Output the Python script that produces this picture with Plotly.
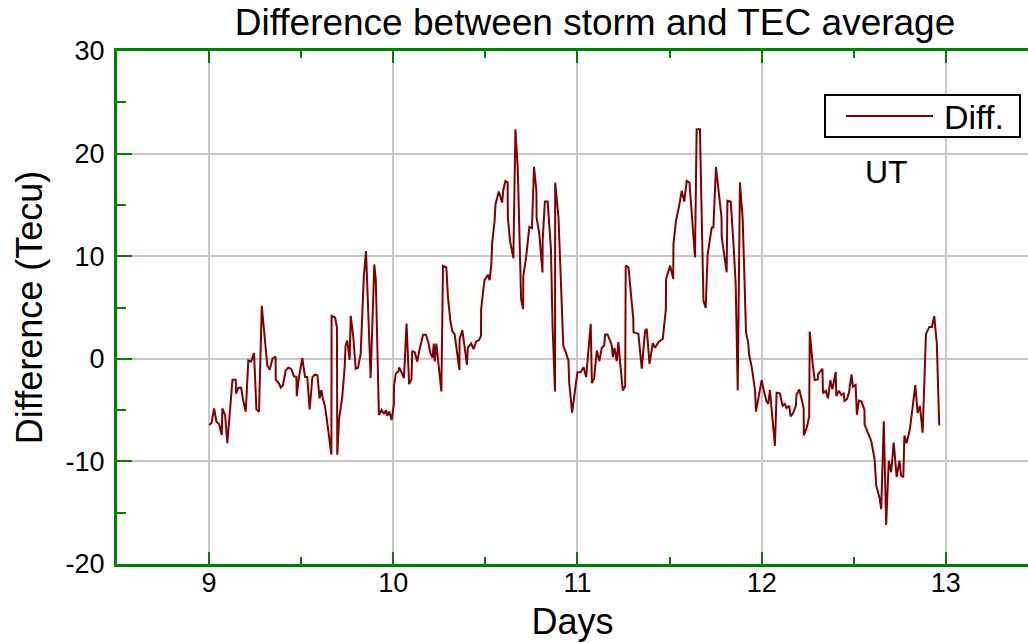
import plotly.graph_objects as go

days = [
    9.000, 9.014, 9.027, 9.040, 9.054, 9.069, 9.072, 9.087, 9.099, 9.112,
    9.127, 9.145, 9.146, 9.159, 9.174, 9.184, 9.199, 9.213, 9.228, 9.244,
    9.257, 9.271, 9.286, 9.316, 9.329, 9.344, 9.361, 9.362, 9.380, 9.389,
    9.401, 9.416, 9.430, 9.445, 9.461, 9.474, 9.476, 9.488, 9.506, 9.521,
    9.533, 9.546, 9.561, 9.575, 9.588, 9.600, 9.609, 9.618, 9.629, 9.642,
    9.664, 9.665, 9.684, 9.694, 9.696, 9.705, 9.723, 9.736, 9.741, 9.750,
    9.763, 9.769, 9.783, 9.796, 9.808, 9.823, 9.840, 9.852, 9.863, 9.877,
    9.897, 9.905, 9.922,
    9.937, 9.950, 9.960, 9.968, 9.978, 9.991, 10.003, 10.004, 10.014, 10.027,
    10.032, 10.045, 10.058, 10.072, 10.086, 10.099, 10.103, 10.117, 10.130, 10.141,
    10.148, 10.162, 10.177, 10.189, 10.202, 10.213, 10.220, 10.225, 10.234, 10.261,
    10.270, 10.288, 10.297, 10.310, 10.321, 10.333, 10.359, 10.360, 10.375, 10.387,
    10.400, 10.405, 10.423, 10.436, 10.450, 10.465, 10.476, 10.477, 10.495, 10.514,
    10.523, 10.532, 10.537, 10.550, 10.555, 10.573, 10.591, 10.598, 10.609, 10.621,
    10.622, 10.634, 10.652, 10.663, 10.676, 10.694, 10.705, 10.706, 10.721, 10.739,
    10.753, 10.764, 10.777, 10.778, 10.793, 10.810, 10.811, 10.823, 10.838, 10.856,
    10.865, 10.878, 10.879, 10.897, 10.910, 10.923, 10.937, 10.951, 10.955, 10.971,
    10.990, 11.000,
    11.018, 11.033, 11.047, 11.072, 11.078, 11.090, 11.105, 11.119, 11.132, 11.145,
    11.150, 11.163, 11.177, 11.186, 11.192, 11.201, 11.213, 11.222, 11.231, 11.246,
    11.259, 11.262, 11.277, 11.303, 11.304, 11.331, 11.349, 11.367, 11.376, 11.391,
    11.409, 11.421, 11.439, 11.463, 11.480, 11.481, 11.503, 11.520, 11.521, 11.535,
    11.553, 11.566, 11.580, 11.593, 11.608, 11.638, 11.647, 11.665, 11.669, 11.684,
    11.696, 11.707, 11.729, 11.738, 11.752, 11.782, 11.783, 11.810, 11.814, 11.832,
    11.846, 11.859, 11.870, 11.882, 11.897, 11.915, 11.928, 11.931, 11.946, 11.964,
    11.969, 11.982, 12.000,
    12.013, 12.027, 12.036, 12.045, 12.059, 12.072, 12.081, 12.099, 12.114, 12.126,
    12.135, 12.150, 12.157, 12.171, 12.186, 12.189, 12.204, 12.216, 12.228, 12.229,
    12.247, 12.258, 12.261, 12.276, 12.288, 12.305, 12.306, 12.330, 12.333, 12.348,
    12.360, 12.373, 12.384, 12.402, 12.405, 12.420, 12.432, 12.445, 12.450, 12.463,
    12.474, 12.488, 12.495, 12.510, 12.517, 12.528, 12.542, 12.558, 12.559, 12.577,
    12.595, 12.613, 12.622, 12.640, 12.649, 12.663, 12.676, 12.690, 12.703, 12.717,
    12.733, 12.748, 12.757, 12.769, 12.775, 12.787, 12.805, 12.820, 12.834, 12.847,
    12.859, 12.874, 12.888, 12.892, 12.910, 12.924, 12.937, 12.951, 12.964,
]

diff = [
    -6.45, -6.23, -4.84, -6.13, -6.35, -7.42, -4.84, -5.48, -8.23, -5.32,
    -2.03, -2.03, -3.39, -2.81, -2.81, -3.97, -5.16, -0.16, -0.26, 0.55,
    -4.94, -5.16, 5.16, -0.65, -1.06, 0.00, 0.23, -2.03, -2.42, -2.81,
    -2.58, -1.13, -0.87, -0.97, -1.71, -1.77, -3.65, -1.77, 0.06, -1.77,
    -1.77, -4.94, -1.77, -1.55, -1.61, -3.87, -3.06, -3.87, -4.61, -6.29,
    -9.35, 4.19, 4.03, 3.06, -9.35, -5.97, -3.71, -0.81, 1.29, 1.77,
    -0.10, 4.19, 2.10, -0.97, -0.87, 0.48, 8.00, 10.50, 5.50, -1.87,
    9.20, 7.70, -5.48,
    -5.00, -5.39, -5.00, -5.55, -5.13, -5.97, -4.42, -2.63, -1.43, -1.23,
    -0.84, -1.33, -1.88, 3.44, -2.47, -1.98, 0.78, 0.62, -0.26, 0.78,
    1.36, 2.34, 2.34, 1.69, 0.52, 0.13, 1.49, -0.26, 1.49, -3.18,
    9.06, 8.90, 5.97, 3.70, 2.66, 2.40, -1.10, 1.92, 2.79, 1.10,
    -0.58, 1.10, 1.49, 0.94, 1.69, 1.82, 2.24, 4.84, 7.66, 8.18,
    7.66, 9.12, 11.33, 13.44, 15.06, 16.30, 15.23, 16.53, 17.34, 17.18,
    13.77, 11.49, 9.81, 22.37, 18.47, 5.81, 4.84, 8.08, 9.87, 12.86,
    12.73, 18.70, 16.36, 13.77, 12.14, 8.41, 11.49, 15.32, 15.32, 10.68,
    3.05, -3.18, 17.18, 13.77, 6.46, 1.27, 0.62, -0.19, -2.31, -5.25,
    -2.60, -1.30,
    -1.30, -0.81, -1.78, 3.40, -2.37, -1.94, 0.81, -0.23, 1.07, 1.30,
    2.37, 2.37, 1.78, 1.30, 0.16, 1.07, -0.23, 1.62, -0.23, -3.08,
    -2.69, 9.08, 8.91, 3.89, 2.59, 2.43, -0.97, 2.69, 2.92, -0.49,
    1.52, 1.07, 1.62, 1.94, 4.86, 7.78, 9.08, 7.78, 11.18, 13.45,
    15.01, 16.37, 15.33, 17.34, 17.18, 9.89, 22.37, 22.37, 18.64, 5.67,
    4.96, 10.21, 12.80, 12.80, 18.70, 13.78, 11.90, 8.43, 15.40, 15.33,
    11.51, 7.29, -3.08, 17.18, 13.61, 2.59, 1.46, 0.49, -0.81, -3.08,
    -5.15, -3.69, -2.08,
    -3.21, -4.17, -4.39, -3.04, -5.93, -8.49, -3.30, -3.37, -4.58, -4.39,
    -4.81, -4.58, -5.61, -5.29, -4.58, -3.53, -2.98, -3.85, -4.81, -7.47,
    -6.57, -5.61, 2.66, -0.32, -2.08, -2.02, -1.51, -0.96, -3.37, -3.11,
    -3.85, -2.08, -2.98, -1.28, -3.62, -3.11, -3.53, -3.37, -4.10, -3.94,
    -3.30, -1.51, -2.72, -2.56, -5.45, -4.07, -4.17, -4.97, -6.41, -7.21,
    -8.01, -9.78, -12.34, -13.56, -14.65, -6.09, -16.19, -9.94, -11.06, -8.17,
    -11.54, -9.94, -11.38, -11.54, -7.47, -8.24, -6.83, -4.65, -2.56, -5.29,
    -4.58, -7.21, 0.48, 2.40, 3.11, 3.11, 4.17, 1.44, -6.51,
]

x_ticks = [9, 10, 11, 12, 13]
y_ticks = [-20, -10, 0, 10, 20, 30]
series_name = "Diff."

FONT = "Liberation Sans, Arial, sans-serif"
GREEN = "#008000"
LINE_COLOR = "#800000"

# plot area: x 117..1028, y 51..564 (px)
def px_x(p):
    return (p - 117) / 911

def px_y(p):
    return (564 - p) / 513

fig = go.Figure()
fig.add_trace(go.Scatter(
    x=days, y=diff, mode="lines", name=series_name, showlegend=False,
    line=dict(color=LINE_COLOR, width=2),
))

shapes = [
    # legend box
    dict(type="rect", xref="paper", yref="paper",
         x0=px_x(825), x1=px_x(1020), y0=px_y(137), y1=px_y(95),
         line=dict(color="black", width=2), fillcolor="white", layer="above"),
    # legend line sample
    dict(type="line", xref="paper", yref="paper",
         x0=px_x(846), x1=px_x(933), y0=px_y(116), y1=px_y(116),
         line=dict(color=LINE_COLOR, width=2), layer="above"),
]

annotations = [
    dict(text=series_name, x=px_x(942), y=px_y(117), xref="paper", yref="paper",
         xanchor="left", yanchor="middle", showarrow=False,
         font=dict(size=34, family=FONT, color="black")),
    dict(text="UT", x=px_x(886), y=px_y(172), xref="paper", yref="paper",
         xanchor="center", yanchor="middle", showarrow=False,
         font=dict(size=32, family=FONT, color="black")),
]

fig.update_layout(
    width=1028, height=643,
    margin=dict(l=117, r=0, t=51, b=79),
    paper_bgcolor="white", plot_bgcolor="white",
    font=dict(family=FONT, color="black"),
    title=dict(text="Difference between storm and TEC average",
               x=595 / 1028, xref="container", xanchor="center",
               y=1 - 22 / 643, yref="container", yanchor="middle",
               font=dict(size=37, family=FONT, color="black")),
    showlegend=False,
    shapes=shapes,
    annotations=annotations,
)

fig.update_xaxes(
    range=[8.5, 13.446], tickvals=x_ticks, ticktext=[str(v) for v in x_ticks],
    ticks="inside", ticklen=12, tickwidth=2, tickcolor=GREEN,
    minor=dict(dtick=0.5, tick0=9, ticks="inside", ticklen=7, tickwidth=2,
               tickcolor=GREEN, showgrid=False),
    showline=True, linecolor=GREEN, linewidth=3, mirror="ticks",
    showgrid=True, gridcolor="#c8c8c8", gridwidth=2,
    tickfont=dict(size=27, family=FONT), zeroline=False,
    ticklabelstandoff=-7,
    title=dict(text="Days", font=dict(size=36, family=FONT), standoff=12),
)
fig.update_yaxes(
    range=[-20, 30], tickvals=y_ticks, ticktext=[str(v) for v in y_ticks],
    ticks="inside", ticklen=15, tickwidth=2, tickcolor=GREEN,
    minor=dict(dtick=5, tick0=0, ticks="inside", ticklen=9, tickwidth=2,
               tickcolor=GREEN, showgrid=False),
    showline=True, linecolor=GREEN, linewidth=3, mirror=False,
    showgrid=True, gridcolor="#c8c8c8", gridwidth=2,
    tickfont=dict(size=27, family=FONT), zeroline=False,
    ticklabelstandoff=4,
    title=dict(text="Difference (Tecu)", font=dict(size=36, family=FONT), standoff=12),
)

fig.write_html("out.html")
